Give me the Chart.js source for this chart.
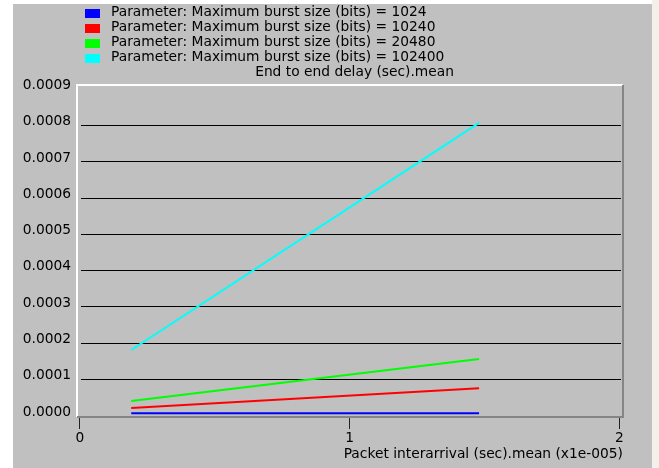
<!DOCTYPE html>
<html>
<head>
<meta charset="utf-8">
<title>End to end delay vs packet interarrival</title>
<script src="https://cdn.jsdelivr.net/npm/chart.js@4/dist/chart.umd.min.js"></script>
<style>
  html, body { margin: 0; padding: 0; background: #ffffff; }
  canvas { display: block; }
</style>
</head>
<body>
<canvas id="chart" width="659" height="468"></canvas>
<script>
// Packet interarrival (sec).mean, in units of 1e-5 s
const interarrival = [0.19, 1.48];

// End to end delay (sec).mean for each maximum burst size
const burstSizes = [1024, 10240, 20480, 102400];
const delayBurst1024 = [0.0000055, 0.0000058];
const delayBurst10240 = [0.0000201, 0.0000744];
const delayBurst20480 = [0.0000394, 0.000155];
const delayBurst102400 = [0.00018, 0.000806];

const seriesColors = ['#0000ff', '#ff0000', '#00ff00', '#00ffff'];

// Axis ticks
const xTicks = [0, 1, 2];
const xTickLabels = ['0', '1', '2'];
const yTicks = [0, 0.0001, 0.0002, 0.0003, 0.0004, 0.0005, 0.0006, 0.0007, 0.0008, 0.0009];
const yTickLabels = ['0.0000', '0.0001', '0.0002', '0.0003', '0.0004', '0.0005', '0.0006', '0.0007', '0.0008', '0.0009'];

const xTitle = 'Packet interarrival (sec).mean (x1e-005)';
const yTitle = 'End to end delay (sec).mean';

const delaySeries = [delayBurst1024, delayBurst10240, delayBurst20480, delayBurst102400];

const datasets = delaySeries.map((values, i) => ({
  label: 'Parameter: Maximum burst size (bits) = ' + burstSizes[i],
  data: values.map((y, j) => ({ x: interarrival[j], y: y })),
  borderColor: seriesColors[i],
  backgroundColor: seriesColors[i],
  borderWidth: 2,
  pointRadius: 0,
  fill: false,
  tension: 0
}));

const FONT = 'DejaVu Sans';
Chart.defaults.font.family = FONT;
Chart.defaults.font.size = 13.8;
Chart.defaults.color = '#000000';

// Window-style panel: grey backdrop, inset grid rules, bevelled plot frame,
// stacked legend and the delay caption
const panelPlugin = {
  id: 'panel',
  beforeDraw(chart) {
    const ctx = chart.ctx;
    ctx.save();
    ctx.fillStyle = '#ffffff';
    ctx.fillRect(0, 0, chart.width, chart.height);
    ctx.fillStyle = '#f3f0ea';
    ctx.fillRect(652, 0, chart.width - 652, chart.height);
    ctx.fillStyle = '#c0c0c0';
    ctx.fillRect(13, 4, 652 - 13, chart.height - 4);
    ctx.restore();
  },
  beforeDatasetsDraw(chart) {
    // horizontal rules at the inner value ticks, inset from the frame
    const ctx = chart.ctx;
    const a = chart.chartArea;
    const yScale = chart.scales.y;
    ctx.save();
    ctx.strokeStyle = '#000000';
    ctx.lineWidth = 1;
    yScale.ticks.forEach(t => {
      if (t.value <= 0 || t.value >= 0.00085) return;
      const py = Math.round(yScale.getPixelForValue(t.value)) + 0.5;
      ctx.beginPath();
      ctx.moveTo(a.left + 4, py);
      ctx.lineTo(a.right - 2, py);
      ctx.stroke();
    });
    ctx.restore();
  },
  afterDraw(chart) {
    const ctx = chart.ctx;
    const a = chart.chartArea;
    ctx.save();
    ctx.lineWidth = 2;
    // light edges (left, top)
    ctx.strokeStyle = '#ffffff';
    ctx.beginPath();
    ctx.moveTo(a.left, a.bottom);
    ctx.lineTo(a.left, a.top);
    ctx.lineTo(a.right, a.top);
    ctx.stroke();
    // shaded edges (right, bottom)
    ctx.strokeStyle = '#858585';
    ctx.beginPath();
    ctx.moveTo(a.right, a.top);
    ctx.lineTo(a.right, a.bottom);
    ctx.lineTo(a.left, a.bottom);
    ctx.stroke();

    // legend
    ctx.font = '13.8px "' + FONT + '"';
    ctx.textBaseline = 'middle';
    ctx.textAlign = 'left';
    chart.data.datasets.forEach((ds, i) => {
      const cy = 13.5 + i * 15;
      ctx.fillStyle = ds.borderColor;
      ctx.fillRect(85, cy - 4.5, 15, 9);
      ctx.fillStyle = '#000000';
      ctx.fillText(ds.label, 111, cy - 0.8);
    });

    // value caption above the plot
    ctx.textAlign = 'right';
    ctx.fillText(yTitle, 454, 72);
    ctx.restore();
  }
};

new Chart(document.getElementById('chart'), {
  type: 'line',
  data: { datasets: datasets },
  options: {
    responsive: false,
    animation: false,
    events: [],
    layout: { padding: { top: 85, right: 36, bottom: 0, left: 0 } },
    plugins: {
      legend: { display: false },
      tooltip: { enabled: false },
      title: { display: false }
    },
    scales: {
      x: {
        type: 'linear',
        min: -0.0111,
        max: 2.0137,
        afterBuildTicks(scale) { scale.ticks = xTicks.map(v => ({ value: v })); },
        afterFit(scale) { scale.height = 51; },
        ticks: {
          padding: 1,
          maxRotation: 0,
          autoSkip: false,
          callback: (value, index) => xTickLabels[index]
        },
        grid: {
          display: true,
          drawOnChartArea: false,
          drawTicks: true,
          tickLength: 12,
          tickColor: '#222222',
          tickWidth: 1
        },
        border: { display: false },
        title: {
          display: true,
          text: xTitle,
          align: 'end',
          padding: { top: 0, bottom: 5 }
        }
      },
      y: {
        type: 'linear',
        min: -0.00000468,
        max: 0.0009102,
        afterBuildTicks(scale) { scale.ticks = yTicks.map(v => ({ value: v })); },
        afterFit(scale) { scale.width = 77; },
        ticks: {
          padding: 6,
          autoSkip: false,
          font: { lineHeight: '6.6px' },
          callback: (value, index) => [yTickLabels[index], '']
        },
        grid: {
          display: true,
          drawOnChartArea: false,
          drawTicks: false
        },
        border: { display: false }
      }
    }
  },
  plugins: [panelPlugin]
});
</script>
</body>
</html>
